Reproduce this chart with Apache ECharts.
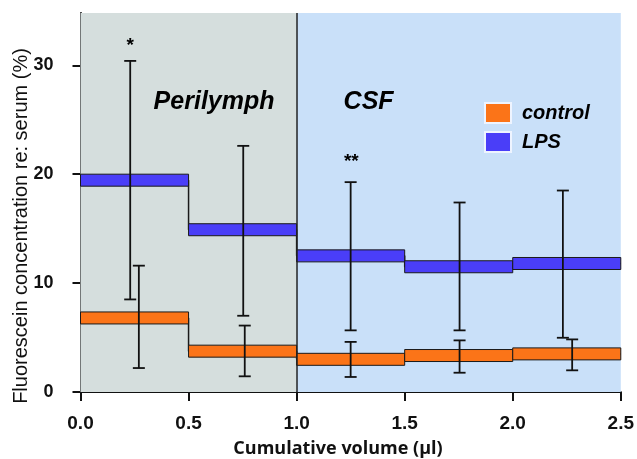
<!DOCTYPE html>
<html>
<head>
<meta charset="utf-8">
<script src="https://cdn.jsdelivr.net/npm/echarts@6/dist/echarts.min.js"></script>
<style>html,body{margin:0;padding:0;background:#fff;}#c{width:637px;height:459px;}</style>
</head>
<body>
<div id="c"></div>
<script>
// ---- data ----
const xEdges = [0, 0.5, 1.0, 1.5, 2.0, 2.5];
const controlMean = [6.8, 3.75, 3.0, 3.35, 3.5];
const lpsMean = [19.45, 14.9, 12.5, 11.5, 11.8];
const lpsErrX = [0.23, 0.753, 1.25, 1.754, 2.232];
const lpsLow = [8.5, 7.0, 5.66, 5.66, 4.98];
const lpsHigh = [30.4, 22.6, 19.27, 17.4, 18.5];
const ctrlErrX = [0.27, 0.76, 1.25, 1.754, 2.275];
const ctrlLow = [2.2, 1.44, 1.38, 1.77, 1.99];
const ctrlHigh = [11.6, 6.1, 4.6, 4.74, 4.83];
const sigX = [0.23, 1.253];
const sigY = [31.8, 21.1];
const sigText = ['*', '**'];
const regionEdges = [0, 1.0, 2.5];
const regionNames = ['Perilymph', 'CSF'];
const regionLabelX = [0.618, 1.333];
const regionLabelY = [26.6, 26.6];
const yTicks = [0, 10, 20, 30];
const seriesNames = ['control', 'LPS'];

const ORANGE = '#fb7418';
const BLUE = '#4a3ef8';
const FONT = '"Liberation Sans", Arial, sans-serif';

function segData(means) {
  return means.map((m, i) => [xEdges[i], xEdges[i + 1], m]);
}
function stepData(means) {
  const d = means.map((m, i) => [xEdges[i], m]);
  d.push([xEdges[xEdges.length - 1], means[means.length - 1]]);
  return d;
}
function errData(xs, lo, hi) {
  return xs.map((x, i) => [x, lo[i], hi[i]]);
}
function rectItem(color) {
  return function (params, api) {
    const p0 = api.coord([api.value(0), api.value(2)]);
    const p1 = api.coord([api.value(1), api.value(2)]);
    return {
      type: 'rect',
      shape: { x: p0[0], y: p0[1] - 6, width: p1[0] - p0[0], height: 12 },
      style: { fill: color, stroke: '#1a1a1a', lineWidth: 1 }
    };
  };
}
function errItem(params, api) {
  const x = api.value(0);
  const lo = api.coord([x, api.value(1)]);
  const hi = api.coord([x, api.value(2)]);
  const w = 6;
  const st = { stroke: '#111', lineWidth: 1.8 };
  return {
    type: 'group',
    children: [
      { type: 'line', shape: { x1: lo[0], y1: lo[1], x2: hi[0], y2: hi[1] }, style: st },
      { type: 'line', shape: { x1: lo[0] - w, y1: lo[1], x2: lo[0] + w, y2: lo[1] }, style: st },
      { type: 'line', shape: { x1: hi[0] - w, y1: hi[1], x2: hi[0] + w, y2: hi[1] }, style: st }
    ]
  };
}

const chart = echarts.init(document.getElementById('c'));
chart.setOption({
  animation: false,
  grid: { left: 80.5, right: 15, top: 13, bottom: 67 },
  xAxis: {
    type: 'value', min: 0, max: 2.5, interval: 0.5,
    splitLine: { show: false },
    axisLine: { lineStyle: { color: '#111', width: 2 } },
    axisTick: { length: 9, lineStyle: { color: '#111', width: 2 } },
    axisLabel: {
      margin: 22, color: '#111', fontSize: 19, fontWeight: 'bold',
      fontFamily: FONT,
      formatter: v => v.toFixed(1)
    }
  },
  yAxis: {
    type: 'value', min: 0, max: 34.8, interval: 10,
    splitLine: { show: false },
    axisLine: { show: true, lineStyle: { color: '#111', width: 2 } },
    axisTick: { show: true, length: 8, customValues: yTicks, lineStyle: { color: '#111', width: 2 } },
    axisLabel: {
      margin: 27, color: '#111', fontSize: 18, fontWeight: 'bold',
      fontFamily: FONT, customValues: yTicks
    }
  },
  legend: {
    data: seriesNames,
    orient: 'vertical', left: 479, top: 97,
    icon: 'rect', itemWidth: 26, itemHeight: 20, itemGap: 7,
    selectedMode: false,
    itemStyle: { borderColor: '#eef4ff', borderWidth: 2 },
    textStyle: {
      color: '#000', fontSize: 20, fontWeight: 'bold', fontStyle: 'italic',
      fontFamily: FONT, padding: [0, 0, 0, 6]
    }
  },
  graphic: [
    {
      type: 'text', x: 21, y: 226, rotation: Math.PI / 2,
      style: {
        text: 'Fluorescein concentration re: serum (%)', x: 0, y: 0,
        fill: '#111', font: '20px ' + FONT, align: 'center', verticalAlign: 'middle'
      }
    },
    {
      type: 'text', x: 338, y: 449,
      style: {
        text: 'Cumulative volume (\u00b5l)', x: 0, y: 0,
        fill: '#111', font: 'bold 18px "Open Sans"', align: 'center', verticalAlign: 'middle'
      }
    }
  ],
  series: [
    {
      name: 'bg', type: 'line', step: 'end', data: stepData(controlMean),
      symbol: 'none', lineStyle: { color: '#1a1a1a', width: 1.5 }, z: 2,
      markArea: {
        silent: true,
        data: [
          [{ xAxis: regionEdges[0], itemStyle: { color: '#d5dedd' } }, { xAxis: regionEdges[1] }],
          [{ xAxis: regionEdges[1], itemStyle: { color: '#c9e0f9' } }, { xAxis: regionEdges[2] }]
        ]
      },
      markLine: {
        silent: true, symbol: 'none', label: { show: false },
        lineStyle: { color: '#222', width: 1.5, type: 'solid' },
        data: [{ xAxis: regionEdges[1] }]
      }
    },
    {
      name: 'lpsStep', type: 'line', step: 'end', data: stepData(lpsMean),
      symbol: 'none', lineStyle: { color: '#1a1a1a', width: 1.5 }, z: 2
    },
    {
      name: seriesNames[0], type: 'custom', renderItem: rectItem(ORANGE),
      data: segData(controlMean), itemStyle: { color: ORANGE }, z: 3,
      encode: { x: [0, 1], y: 2 }
    },
    {
      name: seriesNames[1], type: 'custom', renderItem: rectItem(BLUE),
      data: segData(lpsMean), itemStyle: { color: BLUE }, z: 3,
      encode: { x: [0, 1], y: 2 }
    },
    {
      name: 'lpsErr', type: 'custom', renderItem: errItem,
      data: errData(lpsErrX, lpsLow, lpsHigh), z: 4, encode: { x: 0, y: [1, 2] }
    },
    {
      name: 'ctrlErr', type: 'custom', renderItem: errItem,
      data: errData(ctrlErrX, ctrlLow, ctrlHigh), z: 4, encode: { x: 0, y: [1, 2] }
    },
    {
      name: 'sig', type: 'scatter', symbolSize: 0, z: 5,
      itemStyle: { opacity: 1 },
      data: sigX.map((x, i) => ({ value: [x, sigY[i]], label: { formatter: sigText[i] } })),
      label: {
        show: true, position: 'inside', color: '#000', fontSize: 19, fontWeight: 'bold',
        fontFamily: FONT, textBorderWidth: 0
      }
    },
    {
      name: 'regionLabels', type: 'scatter', symbolSize: 0, z: 5,
      itemStyle: { opacity: 1 },
      data: regionNames.map((n, i) => ({ value: [regionLabelX[i], regionLabelY[i]], label: { formatter: n } })),
      label: {
        show: true, position: 'inside', color: '#000', fontSize: 25, fontWeight: 'bold',
        fontStyle: 'italic', fontFamily: FONT, textBorderWidth: 0
      }
    }
  ]
});
</script>
</body>
</html>
